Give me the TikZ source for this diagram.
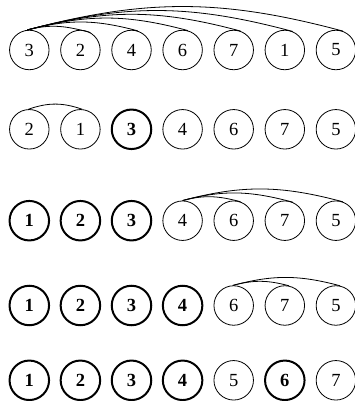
\documentclass[tikz,border=0pt]{standalone}
\usepackage{fontspec}
\setmainfont{Liberation Serif}
\begin{document}
\begin{tikzpicture}[x=1pt,y=1pt,
  nd/.style={circle,draw,line width=0.8pt,minimum size=39.5pt,inner sep=0pt,font=\fontsize{18.5}{20}\selectfont},
  bnd/.style={nd,line width=2pt,font=\fontsize{18.5}{20}\selectfont\bfseries},
  arcl/.style={line width=0.8pt,out=15,in=165}]
\useasboundingbox (0,0) rectangle (354,401);
% row 1
\node[nd] (a1) at (29.3,351) {3};
\node[nd] (a2) at (80.4,351) {2};
\node[nd] (a3) at (131.5,351) {4};
\node[nd] (a4) at (182.6,351) {6};
\node[nd] (a5) at (233.7,351) {7};
\node[nd] (a6) at (284.8,351) {1};
\node[nd] (a7) at (335.9,351) {5};
% row 2
\node[nd] (b1) at (29.3,271.7) {2};
\node[nd] (b2) at (80.4,271.7) {1};
\node[bnd] (b3) at (131.5,271.7) {3};
\node[nd] (b4) at (182.6,271.7) {4};
\node[nd] (b5) at (233.7,271.7) {6};
\node[nd] (b6) at (284.8,271.7) {7};
\node[nd] (b7) at (335.9,271.7) {5};
% row 3
\node[bnd] (c1) at (29.3,180.3) {1};
\node[bnd] (c2) at (80.4,180.3) {2};
\node[bnd] (c3) at (131.5,180.3) {3};
\node[nd] (c4) at (182.6,180.3) {4};
\node[nd] (c5) at (233.7,180.3) {6};
\node[nd] (c6) at (284.8,180.3) {7};
\node[nd] (c7) at (335.9,180.3) {5};
% row 4
\node[bnd] (d1) at (29.3,95.5) {1};
\node[bnd] (d2) at (80.4,95.5) {2};
\node[bnd] (d3) at (131.5,95.5) {3};
\node[bnd] (d4) at (182.6,95.5) {4};
\node[nd] (d5) at (233.7,95.5) {6};
\node[nd] (d6) at (284.8,95.5) {7};
\node[nd] (d7) at (335.9,95.5) {5};
% row 5
\node[bnd] (e1) at (29.3,20.7) {1};
\node[bnd] (e2) at (80.4,20.7) {2};
\node[bnd] (e3) at (131.5,20.7) {3};
\node[bnd] (e4) at (182.6,20.7) {4};
\node[nd] (e5) at (233.7,20.7) {5};
\node[bnd] (e6) at (284.8,20.7) {6};
\node[nd] (e7) at (335.9,20.7) {7};
% arcs
\draw[arcl] (a1.95) to (a2.60);
\draw[arcl] (a1.95) to (a3.72);
\draw[arcl] (a1.95) to (a4.75);
\draw[arcl] (a1.95) to (a5.70);
\draw[arcl] (a1.95) to (a6.67);
\draw[arcl] (a1.95) to (a7.70);
\draw[arcl,out=19,in=161] (b1.92) to (b2.85);
\draw[arcl] (c4.90) to (c5.70);
\draw[arcl] (c4.90) to (c6.67);
\draw[arcl] (c4.90) to (c7.70);
\draw[arcl] (d5.92) to (d6.78);
\draw[arcl] (d5.92) to (d7.78);
\end{tikzpicture}
\end{document}
